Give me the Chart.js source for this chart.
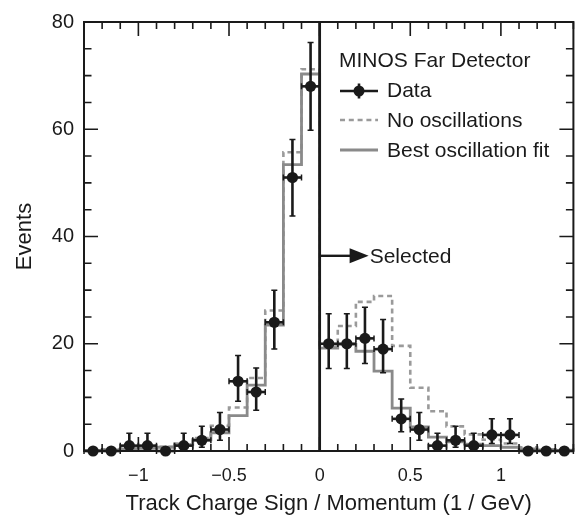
<!DOCTYPE html>
<html><head><meta charset="utf-8">
<script src="https://cdn.jsdelivr.net/npm/chart.js@4/dist/chart.umd.min.js"></script>
<style>html,body{margin:0;padding:0;background:#fff}canvas{display:block}</style>
</head><body>
<canvas id="c" width="579" height="517"></canvas>
<script>
// ---- data ----
const binEdges = [-1.3,-1.2,-1.1,-1.0,-0.9,-0.8,-0.7,-0.6,-0.5,-0.4,-0.3,-0.2,-0.1,0.0,
                  0.1,0.2,0.3,0.4,0.5,0.6,0.7,0.8,0.9,1.0,1.1,1.2,1.3,1.4];
const binCenters = [-1.25,-1.15,-1.05,-0.95,-0.85,-0.75,-0.65,-0.55,-0.45,-0.35,-0.25,-0.15,-0.05,
                    0.05,0.15,0.25,0.35,0.45,0.55,0.65,0.75,0.85,0.95,1.05,1.15,1.25,1.35];
const dataCounts = [0,0,1,1,0,1,2,4,13,11,24,51,68, 20,20,21,19,6,4,1,2,1,3,3,0,0,0];
const dataErrUp   = [0,0,2.3,2.3,0,2.3,2.6,3.2,4.8,4.5,6.0,7.1,8.2, 5.6,5.6,5.8,5.5,3.7,3.2,2.3,2.6,2.3,3.0,3.0,0,0,0];
const dataErrDown = [0,0,0.8,0.8,0,0.8,1.3,2.0,3.7,3.4,5.0,7.2,8.2, 4.6,4.6,4.7,4.4,2.4,2.0,0.8,1.3,0.8,1.6,1.6,0,0,0];
const binHalfWidth = 0.05;
const bestFit = [0.1,0.2,0.4,0.5,0.7,1.2,2.1,3.4,6.6,12.3,23.5,53.4,70.3,
                 19.2,19.9,18.6,14.9,8.0,4.5,2.6,1.7,1.3,1.0,0.7,0.4,0.2,0.1];
const noOsc   = [0.1,0.3,0.5,0.6,0.8,1.4,2.4,4.7,8.1,13.6,26.2,55.7,71.2,
                 19.5,23.3,27.8,28.9,19.6,11.8,7.4,4.6,3.1,2.1,1.4,0.7,0.3,0.2];
const xTickLabels = [-1,-0.5,0,0.5,1];
const yTickLabels = [0,20,40,60,80];
const xMinorStep = 0.1, yMinorStep = 5;
const selectCut = 0.0;
const selectArrowY = 36.4;
const legendTitle = "MINOS Far Detector";
const legendLabels = ["Data","No oscillations","Best oscillation fit"];
const xTitle = "Track Charge Sign / Momentum (1 / GeV)";
const yTitle = "Events";
const selectedLabel = "Selected";

// ---- build step histograms ----
function steps(vals){
  const pts=[];
  vals.forEach((v,i)=>{pts.push({x:binEdges[i],y:v});pts.push({x:binEdges[i+1],y:v});});
  return pts;
}
const FONT = "'Liberation Sans', Arial, Helvetica, sans-serif";
const INK = '#1a1a1a';

const decor = {
  id:'decor',
  afterDatasetsDraw(chart){
    const {ctx, chartArea:a, scales:{x,y}} = chart;
    ctx.save();
    // error bars
    ctx.strokeStyle = INK; ctx.lineWidth = 2.6; ctx.lineCap='butt';
    binCenters.forEach((c,i)=>{
      const px = x.getPixelForValue(c), py = y.getPixelForValue(dataCounts[i]);
      const xl = x.getPixelForValue(c-binHalfWidth), xr = x.getPixelForValue(c+binHalfWidth);
      ctx.beginPath(); ctx.moveTo(xl,py); ctx.lineTo(xr,py); ctx.stroke();
      ctx.beginPath(); ctx.moveTo(xl,py-3); ctx.lineTo(xl,py+3); ctx.moveTo(xr,py-3); ctx.lineTo(xr,py+3); ctx.lineWidth=1.5; ctx.stroke(); ctx.lineWidth=2.6;
      if (dataErrUp[i]>0){
        const yt = y.getPixelForValue(dataCounts[i]+dataErrUp[i]);
        const yb = y.getPixelForValue(Math.max(0,dataCounts[i]-dataErrDown[i]));
        ctx.beginPath(); ctx.moveTo(px,yt); ctx.lineTo(px,yb); ctx.stroke();
        ctx.lineWidth=1.5;
        ctx.beginPath(); ctx.moveTo(px-3,yt); ctx.lineTo(px+3,yt); ctx.moveTo(px-3,yb); ctx.lineTo(px+3,yb); ctx.stroke();
        ctx.lineWidth=2.6;
      }
    });
    // selection line
    const x0 = x.getPixelForValue(selectCut);
    ctx.lineWidth = 2.8; ctx.strokeStyle = INK;
    ctx.beginPath(); ctx.moveTo(x0,a.bottom); ctx.lineTo(x0,a.top); ctx.stroke();
    // arrow
    const ay = y.getPixelForValue(selectArrowY);
    ctx.lineWidth = 2.4;
    ctx.beginPath(); ctx.moveTo(x0,ay); ctx.lineTo(x0+31,ay); ctx.stroke();
    ctx.fillStyle = INK;
    ctx.beginPath(); ctx.moveTo(x0+30,ay-7.5); ctx.lineTo(x0+49,ay); ctx.lineTo(x0+30,ay+7.5); ctx.closePath(); ctx.fill();
    ctx.font = "21px "+FONT; ctx.textBaseline='alphabetic'; ctx.textAlign='left';
    ctx.fillText(selectedLabel, x0+50, ay+7.2);
    // frame
    ctx.lineWidth = 2; ctx.strokeStyle = INK;
    ctx.strokeRect(a.left, a.top, a.right-a.left, a.bottom-a.top);
    // ticks
    ctx.lineWidth = 1.6;
    const xmin = x.min, xmax = x.max;
    for (let k = Math.ceil(xmin/xMinorStep-1e-6); k*xMinorStep <= xmax+1e-6; k++){
      const v = k*xMinorStep;
      const major = xTickLabels.some(t=>Math.abs(t-v)<1e-6);
      const len = major?14:7;
      const p = x.getPixelForValue(v);
      ctx.beginPath(); ctx.moveTo(p,a.bottom); ctx.lineTo(p,a.bottom-len);
      ctx.moveTo(p,a.top); ctx.lineTo(p,a.top+len); ctx.stroke();
    }
    for (let v = y.min; v <= y.max+1e-6; v += yMinorStep){
      const major = yTickLabels.some(t=>Math.abs(t-v)<1e-6);
      const len = major?14:7.5;
      const p = y.getPixelForValue(v);
      ctx.beginPath(); ctx.moveTo(a.left,p); ctx.lineTo(a.left+len,p);
      ctx.moveTo(a.right,p); ctx.lineTo(a.right-len,p); ctx.stroke();
    }
    // legend
    const lx0 = 340, lx1 = 378, tx = 387;
    ctx.font = "21px "+FONT; ctx.fillStyle = INK; ctx.textAlign='left';
    ctx.fillText(legendTitle, 339, 67);
    const rows = [{ty:97, ly:91},{ty:127, ly:120},{ty:157, ly:150}];
    // data
    ctx.strokeStyle = INK; ctx.lineWidth=2.6;
    ctx.beginPath(); ctx.moveTo(lx0,rows[0].ly); ctx.lineTo(lx1,rows[0].ly); ctx.stroke();
    ctx.beginPath(); ctx.moveTo((lx0+lx1)/2,rows[0].ly-7.5); ctx.lineTo((lx0+lx1)/2,rows[0].ly+7.5); ctx.stroke();
    ctx.beginPath(); ctx.arc((lx0+lx1)/2,rows[0].ly,5.5,0,Math.PI*2); ctx.fill();
    ctx.fillText(legendLabels[0], tx, rows[0].ty);
    // no osc
    ctx.strokeStyle = '#9a9a9a'; ctx.lineWidth=2.6; ctx.setLineDash([5,3.8]);
    ctx.beginPath(); ctx.moveTo(lx0,rows[1].ly); ctx.lineTo(lx1,rows[1].ly); ctx.stroke();
    ctx.setLineDash([]);
    ctx.fillText(legendLabels[1], tx, rows[1].ty);
    // best fit
    ctx.strokeStyle = '#8a8a8a'; ctx.lineWidth=2.8;
    ctx.beginPath(); ctx.moveTo(lx0,rows[2].ly); ctx.lineTo(lx1,rows[2].ly); ctx.stroke();
    ctx.fillText(legendLabels[2], tx, rows[2].ty);
    ctx.restore();
  }
};

new Chart(document.getElementById('c'), {
  type:'scatter',
  data:{datasets:[
    {label:'Data', data:binCenters.map((c,i)=>({x:c,y:dataCounts[i]})), showLine:false,
     pointRadius:5.6, pointBackgroundColor:INK, pointBorderColor:INK, pointBorderWidth:0, clip:false, order:0},
    {label:'No oscillations', data:steps(noOsc), showLine:true, pointRadius:0, borderColor:'#9a9a9a',
     borderWidth:2.6, borderDash:[5,3.8], order:2, tension:0},
    {label:'Best oscillation fit', data:steps(bestFit), showLine:true, pointRadius:0, borderColor:'#8a8a8a',
     borderWidth:2.8, order:1, tension:0}
  ]},
  options:{
    responsive:false, animation:false, devicePixelRatio:1,
    layout:{padding:{top:17,right:5,left:0,bottom:0}},
    plugins:{legend:{display:false}, tooltip:{enabled:false}},
    scales:{
      x:{type:'linear', min:binEdges[0], max:binEdges[binEdges.length-1],
         grid:{display:false, drawTicks:false}, border:{display:false},
         afterBuildTicks(s){ s.ticks = xTickLabels.map(v=>({value:v})); },
         ticks:{font:{family:FONT,size:18}, color:INK, padding:14, maxRotation:0, autoSkip:false,
                callback:v=>String(v).replace('-','\u2212')},
         title:{display:true, text:xTitle, font:{family:FONT,size:22}, color:INK, padding:{top:0,bottom:0}},
         afterFit(s){ s.height = 66; }},
      y:{type:'linear', min:yTickLabels[0], max:yTickLabels[yTickLabels.length-1],
         grid:{display:false, drawTicks:false}, border:{display:false},
         afterBuildTicks(s){ s.ticks = yTickLabels.map(v=>({value:v})); },
         ticks:{font:{family:FONT,size:20}, color:INK, padding:10, callback:v=>String(v)},
         title:{display:true, text:yTitle, font:{family:FONT,size:22}, color:INK, padding:{top:12,bottom:0}},
         afterFit(s){ s.width = 84; }}
    }
  },
  plugins:[decor]
});
</script>
</body></html>
